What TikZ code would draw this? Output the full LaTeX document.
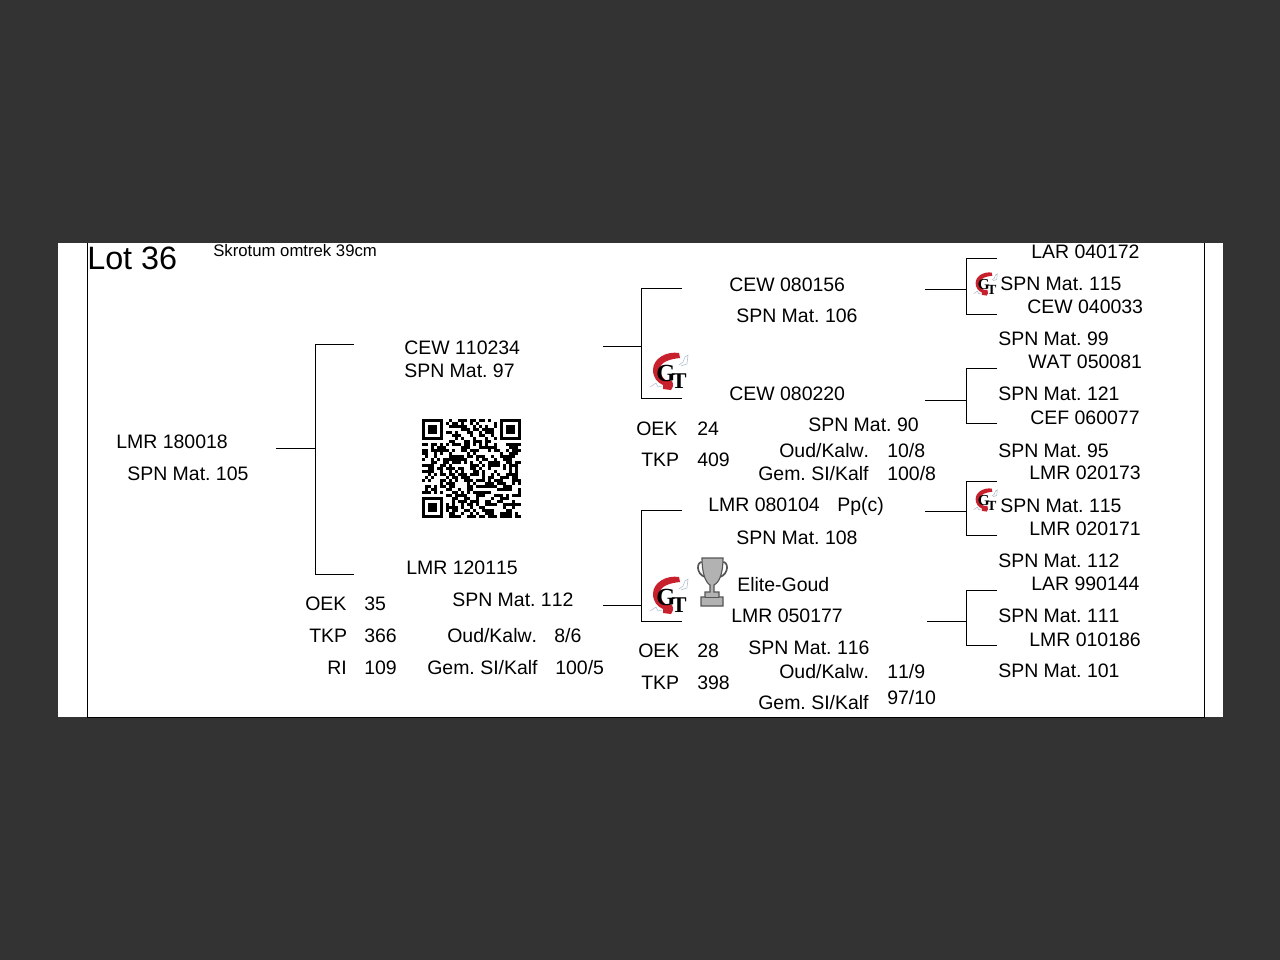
\documentclass[tikz,border=0pt]{standalone}
\usepackage{fontspec}
\setmainfont[Kerning=Off]{Liberation Sans}
\newfontfamily\logofont{Liberation Serif}
\usepackage{xcolor}
\usetikzlibrary{calc}
\definecolor{cback}{RGB}{51,51,51}
\definecolor{cred}{RGB}{200,32,44}
\definecolor{csketch}{RGB}{175,190,205}
\definecolor{ccup}{RGB}{178,178,178}
\definecolor{ccupline}{RGB}{85,85,85}
\frenchspacing
\tikzset{
  lbl/.style={anchor=base west, inner sep=0pt, font=\fontsize{13.85}{15}\selectfont},
  link/.style={line width=0.7pt, color=black},
  frameline/.style={line width=0.6pt, color=black},
  pics/gtlogo/.style={code={
    \fill[cred] (27,1) .. controls (15,-1) and (1,6) .. (1,18)
      .. controls (1,26) and (6,31) .. (11,33) -- (11,37) -- (19,38)
      .. controls (21,36) and (22,33) .. (20,29) -- (14,29)
      .. controls (11,26) and (8,22) .. (8,17)
      .. controls (8,10) and (18,7) .. (28,6) -- cycle;
    \draw[csketch, line width=0.4pt] (27,13) -- (31,10) -- (33,5) -- (36,3) -- (35,12) -- (29,14)
      (-2,35) -- (4,31) -- (6,35) -- (10,34);
    \node[transform shape, inner sep=0pt, font=\logofont\bfseries\fontsize{17.5}{18}\selectfont] (-g) at (14,21) {G};
    \node[transform shape, inner sep=0pt, font=\logofont\bfseries\fontsize{16}{16}\selectfont] (-t) at (27,29) {T};
  }},
  pics/qrfinder/.style={code={
    \fill[black] (0,0) rectangle (21,21);
    \fill[white] (3,3) rectangle (18,18);
    \fill[black] (6,6) rectangle (15,15);
  }}
}

\begin{document}
\begin{tikzpicture}[x=0.25mm, y=-0.25mm]
  \fill[cback] (0,0) rectangle (1280,960);
  \fill[white] (58,243) rectangle (1223,717);
  \coordinate (frametl) at (87.5,243);
  \coordinate (framebl) at (87.5,717);
  \coordinate (framebr) at (1204.5,717);
  \coordinate (frametr) at (1204.5,243);
  \draw[frameline] (frametl) -- (framebl) -- (framebr) -- (frametr);

  \node[lbl, font=\fontsize{23}{24}\selectfont] (lot) at (87,269) {Lot 36};
  \node[lbl, font=\fontsize{11.9}{13}\selectfont] (skrotum) at (213,256) {Skrotum omtrek 39cm};

  % sire and dam
  \foreach \nm/\x/\y/\txt in {
    root/116/448/{LMR 180018}, rootmat/127/480/{SPN Mat. 105},
    sire/404/354/{CEW 110234}, siremat/404/377/{SPN Mat. 97},
    dam/406/574/{LMR 120115}, dammat/452/606/{SPN Mat. 112},
    oeka/305/610/{OEK}, oekaval/364/610/{35},
    tkpa/309/642/{TKP}, tkpaval/364/642/{366},
    ria/327/674/{RI}, riaval/364/674/{109},
    kalwa/447/642/{Oud/Kalw.}, kalwaval/554/642/{8/6},
    sia/427/674/{Gem. SI/Kalf}, siaval/555/674/{100/5}} {
    \node[lbl] (\nm) at (\x,\y) {\txt};
  }
  % grandparents
  \foreach \nm/\x/\y/\txt in {
    gsa/729/291/{CEW 080156}, gsamat/736/322/{SPN Mat. 106},
    gda/729/400/{CEW 080220}, gdamat/808/431/{SPN Mat. 90},
    oekb/636/435/{OEK}, oekbval/697/435/{24},
    tkpb/641/466/{TKP}, tkpbval/697/466/{409},
    kalwb/779/457/{Oud/Kalw.}, kalwbval/887/457/{10/8},
    sib/758/480/{Gem. SI/Kalf}, sibval/887/480/{100/8},
    gsb/708/511/{LMR 080104}, gsbpp/837/511/{Pp(c)},
    gsbmat/736/544/{SPN Mat. 108}, elite/737/591/{Elite-Goud},
    gdb/731/622/{LMR 050177}, gdbmat/748/654/{SPN Mat. 116},
    oekc/638/657/{OEK}, oekcval/697/657/{28},
    tkpc/641/689/{TKP}, tkpcval/697/689/{398},
    kalwc/779/678/{Oud/Kalw.}, kalwcval/887/678/{11/9},
    sic/758/709/{Gem. SI/Kalf}, sicval/887/704/{97/10}} {
    \node[lbl] (\nm) at (\x,\y) {\txt};
  }
  % last generation
  \foreach \nm/\x/\y/\txt in {
    ra/1031/258/{LAR 040172}, ramat/1000/290/{SPN Mat. 115},
    rb/1027/313/{CEW 040033}, rbmat/998/345/{SPN Mat. 99},
    rc/1028/368/{WAT 050081}, rcmat/998/400/{SPN Mat. 121},
    rd/1030/424/{CEF 060077}, rdmat/998/457/{SPN Mat. 95},
    re/1029/479/{LMR 020173}, remat/1000/512/{SPN Mat. 115},
    rf/1029/535/{LMR 020171}, rfmat/998/567/{SPN Mat. 112},
    rg/1031/590/{LAR 990144}, rgmat/998/622/{SPN Mat. 111},
    rh/1029/646/{LMR 010186}, rhmat/998/677/{SPN Mat. 101}} {
    \node[lbl] (\nm) at (\x,\y) {\txt};
  }

  % brackets
  \foreach \nm/\xs/\xv/\xe/\ym/\yt/\yb in {
    bra/276/315.5/354/448/344/574.5,
    brb/603/641.5/682/346/288/398.5,
    brc/603/641.5/682/605/510/621.5,
    brd/925/966/997/289/258/314.5,
    bre/925/966/997/400/368.5/423.5,
    brf/925/966/997/511/481/535.5,
    brg/927/966/997/621/590/645.5} {
    \coordinate (\nm-in) at (\xs,\ym);
    \coordinate (\nm-mid) at (\xv,\ym);
    \coordinate (\nm-top) at (\xe,\yt);
    \coordinate (\nm-bot) at (\xe,\yb);
    \draw[link] (\nm-in) -- (\nm-mid);
    \draw[link] (\nm-top) -| (\nm-mid);
    \draw[link] (\nm-bot) -| (\nm-mid);
  }

  % logos
  \pic (logoa) at (652,352) {gtlogo};
  \pic (logob) at (652,576) {gtlogo};
  \pic[scale=0.62] (logoc) at (975,272) {gtlogo};
  \pic[scale=0.62] (logod) at (975,488) {gtlogo};

  % trophy
  \draw[ccupline, line width=1.2pt] (703,562) .. controls (696,561) and (696,574) .. (705,577)
    (722,562) .. controls (729,561) and (729,574) .. (720,577);
  \draw[ccupline, fill=ccup, line width=0.8pt] (702,558) -- (723,558)
    .. controls (723,572) and (720,582) .. (714,585) -- (714,592) -- (719,592) -- (719,597)
    -- (723,597) -- (723,606) -- (701,606) -- (701,597) -- (705,597) -- (705,592) -- (710,592)
    -- (710,585) .. controls (705,582) and (702,572) .. (702,558) -- cycle;
  \draw[ccupline, line width=0.6pt] (705,597) -- (719,597);

  % qr code
  \pgfmathsetseed{36}
  \begin{scope}[shift={(422,419)}]
    \foreach \r in {0,...,32} {
      \foreach \c in {0,...,32} {
        \pgfmathtruncatemacro{\keep}{
          ifthenelse((\r<8 && \c<8) || (\r<8 && \c>24) || (\r>24 && \c<8), 0,
            ifthenelse(rnd<0.55, 1, 0))}
        \ifnum\keep=1
          \fill[black] ({3*\c},{3*\r}) rectangle ++(3.1,3.1);
        \fi
      }
    }
    \pic at (0,0) {qrfinder};
    \pic at (78,0) {qrfinder};
    \pic at (0,78) {qrfinder};
  \end{scope}
\end{tikzpicture}
\end{document}
